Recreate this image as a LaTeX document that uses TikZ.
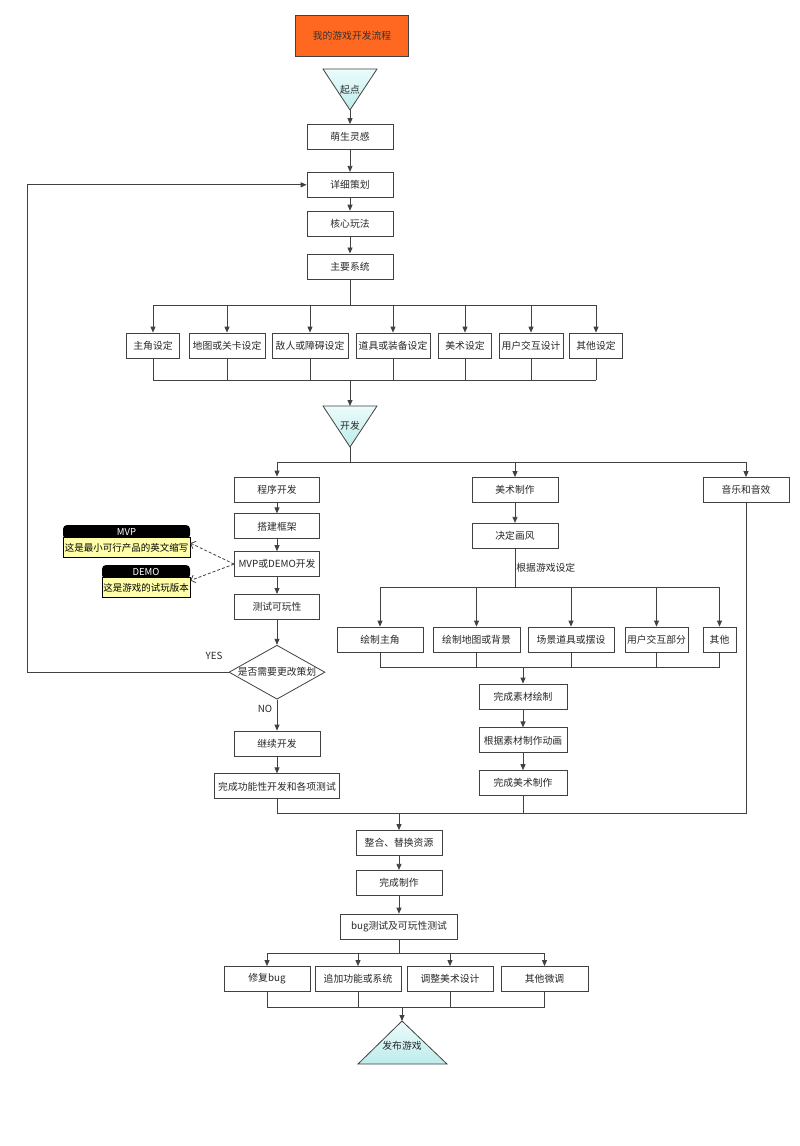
\documentclass[tikz,border=0pt]{standalone}
\usepackage{fontspec}
\setmainfont{Noto Sans CJK SC}
\usepackage{tikz}
\usetikzlibrary{arrows.meta, positioning, shapes.geometric}
\definecolor{lineGray}{RGB}{65,65,65}
\definecolor{textGray}{RGB}{40,40,40}
\definecolor{titleOrange}{RGB}{255,104,32}
\definecolor{noteYellow}{RGB}{255,255,170}
\definecolor{triLight}{RGB}{236,252,252}
\definecolor{triCyan}{RGB}{188,236,234}

\begin{document}
\begin{tikzpicture}[x=1pt, y=-1pt,
  font=\fontsize{9.8}{11}\selectfont, text=textGray,
  wire/.style={draw=lineGray, line width=0.8pt},
  arr/.style={wire, -{Triangle[length=6pt, width=5pt]}},
  dasharr/.style={wire, dash pattern=on 3pt off 2pt,
                  -{Straight Barb[length=4pt, width=8pt]}},
  box/.style={rectangle, draw=lineGray, fill=white, line width=0.8pt,
              minimum width=86pt, minimum height=25pt, inner sep=2pt,
              align=center},
  titlebox/.style={rectangle, draw=lineGray, fill=titleOrange,
                   line width=0.8pt, minimum width=113pt,
                   minimum height=41pt, text=black!80},
  decision/.style={diamond, draw=lineGray, fill=white, line width=0.8pt,
                   aspect=1.8, minimum width=96pt, minimum height=54pt,
                   inner sep=0pt},
  tri/.style={draw=lineGray, line width=0.8pt, top color=triLight,
              bottom color=triCyan},
  notehead/.style={rectangle, rounded corners=4pt, fill=black,
                   minimum height=14pt, inner sep=0pt, text=white,
                   font=\fontsize{9.5}{11}\selectfont},
  notebody/.style={rectangle, draw=black, fill=noteYellow,
                   line width=0.6pt, minimum height=20pt, inner xsep=1pt,
                   inner ysep=0pt, text=black,
                   font=\fontsize{9.5}{11}\selectfont},
]
  \fill[white] (0,0) rectangle (800,1146);
  \useasboundingbox (0,0) rectangle (800,1146);

  % Title and start
  \node[titlebox] (title) at (352,35.5) {我的游戏开发流程};
  \coordinate (qdtip) at (350,110);
  \draw[tri] (323,69) -- (377,69) -- (qdtip) -- cycle;
  \node (qd) at (350,90) {起点};

  % Planning
  \node[box] (mgl) at (350,137) {萌生灵感};
  \node[box, below=22pt of mgl] (xxch) {详细策划};
  \node[box, below=13pt of xxch] (hxwf) {核心玩法};
  \node[box, below=17pt of hxwf] (zyxt) {主要系统};
  \draw[arr] (qdtip) -- (mgl);
  \draw[arr] (mgl) -- (xxch);
  \draw[arr] (xxch) -- (hxwf);
  \draw[arr] (hxwf) -- (zyxt);

  % Settings row
  \coordinate (sbus) at (350,305);
  \coordinate (sjoin) at (350,380);
  \node[box, minimum width=53pt] (s1) at (153,345.5) {主角设定};
  \node[box, minimum width=76pt] (s2) at (227,345.5) {地图或关卡设定};
  \node[box, minimum width=76pt] (s3) at (310,345.5) {敌人或障碍设定};
  \node[box, minimum width=74pt] (s4) at (393,345.5) {道具或装备设定};
  \node[box, minimum width=53pt] (s5) at (465,345.5) {美术设定};
  \node[box, minimum width=64pt] (s6) at (531,345.5) {用户交互设计};
  \node[box, minimum width=53pt] (s7) at (596,345.5) {其他设定};
  \draw[wire] (zyxt) -- (sbus);
  \draw[wire] (s1.north |- sbus) -- (s7.north |- sbus);
  \draw[wire] (s1.south |- sjoin) -- (s7.south |- sjoin);
  \foreach \s in {s1,s2,s3,s4,s5,s6,s7} {
    \draw[arr] (\s.north |- sbus) -- (\s.north);
    \draw[wire] (\s.south) -- (\s.south |- sjoin);
  }

  % Development
  \coordinate (kftop) at (350,406);
  \coordinate (kftip) at (350,447);
  \coordinate (kbus) at (350,462);
  \draw[arr] (sjoin) -- (kftop);
  \draw[tri] (323,406) -- (377,406) -- (kftip) -- cycle;
  \node (kf) at (350,426) {开发};
  \draw[wire] (kftip) -- (kbus);

  % Program column
  \node[box, minimum width=85pt] (cx1) at (277,489.5) {程序开发};
  \node[box, minimum width=85pt, below=11pt of cx1] (cx2) {搭建框架};
  \node[box, minimum width=85pt, below=12pt of cx2] (cx3) {MVP或DEMO开发};
  \node[box, minimum width=85pt, below=17pt of cx3] (cx4) {测试可玩性};
  \node[decision, below=25pt of cx4] (gh) {是否需要更改策划};
  \node[box, below=31pt of gh] (cx5) {继续开发};
  \node[box, minimum width=125pt, below=17pt of cx5] (cx6) {完成功能性开发和各项测试};
  \node (yes) at (214,656) {YES};
  \node (no) at (265,709) {NO};
  \coordinate (loop) at (27,0);
  \draw[arr] (cx1) -- (cx2);
  \draw[arr] (cx2) -- (cx3);
  \draw[arr] (cx3) -- (cx4);
  \draw[arr] (cx4) -- (gh);
  \draw[arr] (gh) -- (cx5);
  \draw[arr] (cx5) -- (cx6);
  \draw[arr] (gh.west) -- (gh.west -| loop) |- (xxch.west);

  % Notes
  \node[notehead, minimum width=127pt] (mvph) at (126.5,532) {MVP};
  \node[notebody, minimum width=127pt, below=-2pt of mvph] (mvpb) {这是最小可行产品的英文缩写};
  \node[notehead, minimum width=88pt] (demoh) at (146,572) {DEMO};
  \node[notebody, minimum width=88pt, below=-2pt of demoh] (demob) {这是游戏的试玩版本};
  \draw[dasharr] (cx3.west) -- (mvpb.4);
  \draw[dasharr] (cx3.west) -- (demob.9);

  % Art column
  \node[box] (ms1) at (515,490) {美术制作};
  \node[box, below=20pt of ms1] (ms2) {决定画风};
  \node[box] (yy) at (746,490) {音乐和音效};
  \draw[wire] (cx1.north |- kbus) -- (yy.north |- kbus);
  \draw[arr] (cx1.north |- kbus) -- (cx1);
  \draw[arr] (ms1.north |- kbus) -- (ms1);
  \draw[arr] (yy.north |- kbus) -- (yy);
  \draw[arr] (ms1) -- (ms2);

  \coordinate (abus) at (515,587);
  \coordinate (ajoin) at (523,667);
  \draw[wire] (ms2) -- (abus) node[midway, anchor=west, inner sep=1pt] (gjsd) {根据游戏设定};
  \node[box] (a1) at (380,639.5) {绘制主角};
  \node[box, minimum width=87pt] (a2) at (476.5,639.5) {绘制地图或背景};
  \node[box] (a3) at (571,639.5) {场景道具或摆设};
  \node[box, minimum width=63pt] (a4) at (656.5,639.5) {用户交互部分};
  \node[box, minimum width=33pt] (a5) at (719.5,639.5) {其他};
  \draw[wire] (a1.north |- abus) -- (a5.north |- abus);
  \draw[wire] (a1.south |- ajoin) -- (a5.south |- ajoin);
  \foreach \a in {a1,a2,a3,a4,a5} {
    \draw[arr] (\a.north |- abus) -- (\a.north);
    \draw[wire] (\a.south) -- (\a.south |- ajoin);
  }

  \node[box, minimum width=88pt] (m1) at (523,696.5) {完成素材绘制};
  \node[box, minimum width=88pt, below=18pt of m1] (m2) {根据素材制作动画};
  \node[box, minimum width=88pt, below=17pt of m2] (m3) {完成美术制作};
  \draw[arr] (ajoin) -- (m1);
  \draw[arr] (m1) -- (m2);
  \draw[arr] (m2) -- (m3);

  % Merge and finish
  \coordinate (mrg) at (399,813);
  \draw[wire] (cx6.south) |- (mrg);
  \draw[wire] (m3.south) |- (mrg);
  \draw[wire] (yy.south) |- (mrg);
  \node[box] (zh) at (399,843) {整合、替换资源};
  \node[box, below=14pt of zh] (wczz) {完成制作};
  \node[box, minimum width=117pt, below=18pt of wczz] (bug) {bug测试及可玩性测试};
  \draw[arr] (mrg) -- (zh);
  \draw[arr] (zh) -- (wczz);
  \draw[arr] (wczz) -- (bug);

  \coordinate (bbus) at (399,953);
  \coordinate (fjoin) at (402,1007);
  \coordinate (fbtip) at (402,1021);
  \node[box] (f1) at (267,979) {修复bug};
  \node[box] (f2) at (358,979) {追加功能或系统};
  \node[box] (f3) at (450,979) {调整美术设计};
  \node[box, minimum width=87pt] (f4) at (544.5,979) {其他微调};
  \draw[wire] (bug) -- (bbus);
  \draw[wire] (f1.north |- bbus) -- (f4.north |- bbus);
  \draw[wire] (f1.south |- fjoin) -- (f4.south |- fjoin);
  \foreach \f in {f1,f2,f3,f4} {
    \draw[arr] (\f.north |- bbus) -- (\f.north);
    \draw[wire] (\f.south) -- (\f.south |- fjoin);
  }
  \draw[arr] (fjoin) -- (fbtip);
  \draw[tri] (fbtip) -- (447,1064) -- (358,1064) -- cycle;
  \node (fb) at (402,1046) {发布游戏};
\end{tikzpicture}
\end{document}
